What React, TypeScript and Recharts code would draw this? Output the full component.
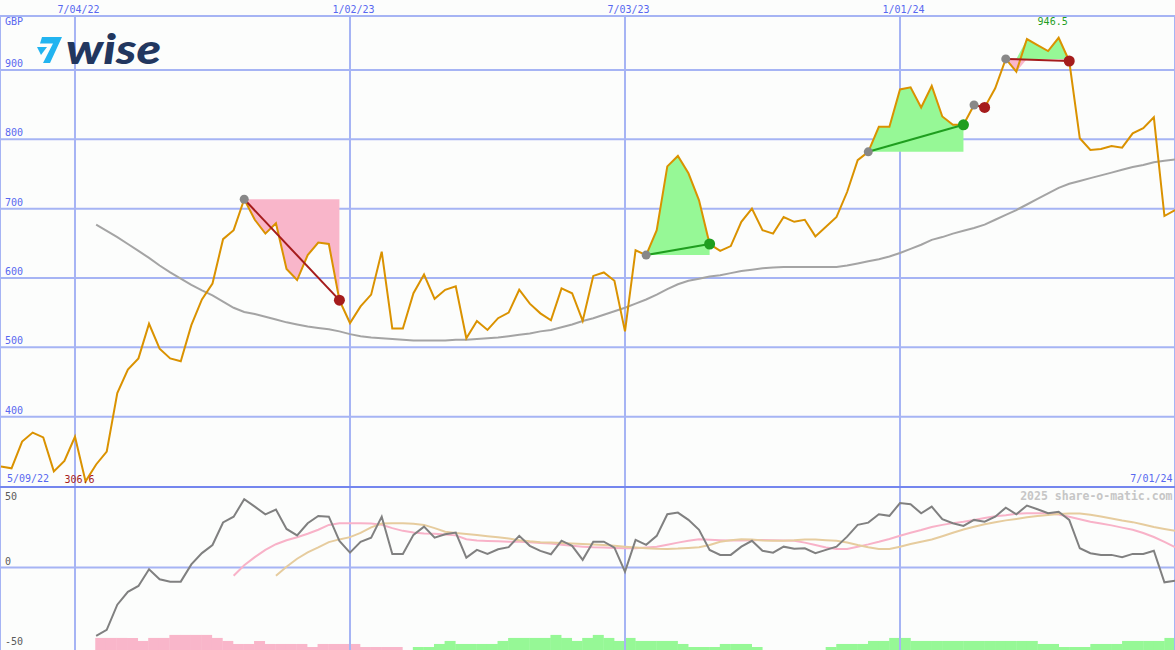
import React from 'react';
import {
    ComposedChart,
    BarChart,
    Bar,
    Cell,
    Line,
    Area,
    XAxis,
    YAxis,
    CartesianGrid,
    ReferenceLine,
    ReferenceDot,
} from 'recharts';

// weekly closes in GBP, week 1 = first visible week
const prices = [
    328, 325.5, 364, 377, 370, 321, 336, 371, 306.6, 331,
    349.5, 434, 468, 484, 534, 498, 484, 480, 532, 569,
    592, 656, 669, 713.5, 684, 664, 679, 613, 597, 633,
    651, 649, 568, 535, 559, 576, 638, 527, 527, 578,
    605, 570, 583, 588, 513, 538, 525, 542, 550, 583,
    563, 549, 539, 585, 578, 538, 603, 608, 596, 523,
    640, 633, 669, 761, 776, 751, 712, 649, 639, 646,
    681, 700, 669, 664, 688, 681, 684, 660, 674, 688,
    724, 770, 782, 818, 818, 872, 875, 846, 877, 833,
    821, 821, 849.5, 846, 873.6, 916, 897.6, 944.7, 936, 927.4,
    946.5, 913, 801.5, 784.6, 786, 790.4, 788, 808.7, 816, 831.8,
    689.4, 698,
];

const movingAvgStart = 10;
const movingAvg = [
    677, 668, 659, 649, 639, 629, 618, 608, 599, 590,
    582, 575, 566, 557, 551, 548, 544, 540, 536, 533,
    530, 528, 526, 523, 519, 516, 514, 513, 512, 511,
    510, 510, 510, 510, 511, 511, 512, 513, 514, 516,
    518, 520, 523, 525, 529, 533, 538, 542, 547, 552,
    557, 563, 569, 576, 584, 591, 596, 599, 602, 604,
    607, 610, 612, 614, 615, 616, 616, 616, 616, 616,
    616, 618, 621, 624, 627, 631, 636, 642, 648, 655,
    659, 664, 668, 672, 677, 684, 691, 698, 706, 714,
    722, 730, 736, 740, 744, 748, 752, 756, 760, 763,
    767, 769, 771,
];

const oscStart = 10;
const oscillator = [
    -42.4, -38.6, -23, -15, -11.4, -1, -7.2, -8.7, -8.7, 2,
    9, 14, 28, 31.6, 42.4, 37.8, 33, 36, 24, 20,
    27.5, 32, 31.6, 16.6, 9.3, 16, 18.6, 31.6, 8.5, 8.5,
    20.3, 25.4, 18.6, 20.7, 21.7, 6.2, 11, 8.5, 11.4, 12.7,
    19.7, 13.5, 10.4, 8.3, 16.7, 13.5, 4.8, 16.1, 16.1, 12.4,
    -2.5, 17.2, 14.1, 19.7, 33.1, 34.1, 29.6, 23.4, 11, 7.9,
    7.9, 13, 16.6, 10.4, 9.3, 13, 11.7, 12, 8.9, 11,
    13, 19.2, 26.5, 27.9, 33.1, 32.1, 40, 39.3, 33.7, 37.8,
    30, 27.5, 25.9, 29.6, 28.5, 31.6, 37.2, 33.1, 38.5, 36.2,
    33.7, 34.6, 29.6, 12, 8.9, 7.9, 7.9, 6.4, 8.5, 8.5,
    10.5, -9.1, -8.1,
];

const signalAStart = 23;
const signalA = [
    -5, 1.5, 6.5, 11, 14.5, 17, 18.8, 21, 23.5, 26.5,
    27.5, 27.5, 27.5, 27.3, 26.6, 24.5, 22.8, 21.8, 21.2, 21,
    20.6, 20, 17.6, 16.8, 16.5, 16.3, 16.1, 16.1, 15.8, 15.3,
    15, 14.2, 13.5, 13, 12.6, 12.4, 12.2, 12, 12, 12.5,
    13, 14.2, 15.5, 16.6, 17.6, 17.3, 17, 16.8, 16.8, 17,
    17.2, 17, 16.8, 16.6, 15.5, 14, 12.5, 11.6, 11.6, 13,
    14.4, 16, 17.8, 19.8, 21.6, 23.3, 25.2, 26.5, 27.6, 28.5,
    29.6, 30.8, 31.8, 32.5, 33.4, 33.7, 33.7, 33.7, 33, 31.6,
    30, 28.4, 27.3, 26.2, 24.8, 23.5, 21.5, 19, 16, 12.7,
];

const signalBStart = 27;
const signalB = [
    -5, 0.5, 5.5, 9.5, 12.5, 15.8, 17.5, 18.9, 21.5, 25,
    27.3, 27.5, 27.5, 27.2, 26.5, 24.5, 22.3, 21.5, 20.9, 20.2,
    19.5, 18.8, 18, 17, 16.3, 15.8, 15.5, 15.2, 15, 14.7,
    14.3, 14, 13.5, 12.9, 12.4, 12, 11.7, 11.6, 11.8, 12.2,
    12.7, 14, 16, 17, 17.6, 17.4, 16.8, 16.7, 16.7, 16.9,
    17.5, 17.4, 17, 16.7, 15.6, 14, 12.6, 11.6, 11.6, 13,
    14.6, 16, 17.4, 19.5, 21.6, 23.6, 25.4, 26.9, 28.2, 29.3,
    30.2, 31.2, 32, 32.7, 33.2, 33.6, 33.6, 32.8, 31.7, 30.5,
    29.2, 28.2, 26.8, 25.2, 24, 22.8,
];

// signed weekly histogram (negative = pink, positive = green)
const histogram = [
    0, 0, 0, 0, 0, 0, 0, 0, 0, -4,
    -4, -4, -4, -3, -4, -4, -5, -5, -5, -5,
    -4, -3, -2, -2, -3, -2, -2, -2, -2, -1,
    -2, -2, -2, -2, -1, -1, -1, -1, 0, 1,
    1, 2, 3, 2, 2, 2, 2, 3, 4, 4,
    4, 4, 5, 4, 3, 4, 5, 4, 3, 4,
    3, 3, 3, 3, 2, 1, 1, 1, 2, 2,
    2, 1, 0, 0, 0, 0, 0, 0, 1, 2,
    2, 2, 3, 3, 4, 4, 3, 3, 3, 3,
    3, 3, 3, 3, 3, 3, 3, 3, 2, 2,
    1, 1, 1, 2, 2, 2, 3, 3, 3, 3,
    4,
];

const dateTicks = [8, 34, 60, 86];
const dateLabels = ['7/04/22', '1/02/23', '7/03/23', '1/01/24'];
const rangeLabels = ['5/09/22', '7/01/24'];
const priceTicks = [400, 500, 600, 700, 800, 900];
const oscTicks = [50, 0, -50];

const tradeEntries = [24, 62, 83, 93, 96];
const tradeExits = [33, 68, 92, 94, 102];

const W = 1175;
const MAIN_H = 487;
const LOW_H = 163;
const X_DOMAIN: [number, number] = [0.91, 112];

const BG = '#fcfdfc';
const GRID = '#a6b4f4';
const AXIS_TEXT = '#5868f0';
const FONT = '"DejaVu Sans Mono", monospace';
const PRICE = '#da9200';
const PINK = '#f9b6ca';
const GREEN = '#96f896';
const LOSS = '#a51c1c';
const WIN = '#1f9e1f';

function valueAt(arr: number[], start: number, week: number) {
    const i = week - start;
    return i >= 0 && i < arr.length ? arr[i] : null;
}

const rows = prices.map((p, idx) => {
    const week = idx + 1;
    const row: Record<string, any> = {
        week,
        price: p,
        ma: valueAt(movingAvg, movingAvgStart, week),
        osc: valueAt(oscillator, oscStart, week),
        sigA: valueAt(signalA, signalAStart, week),
        sigB: valueAt(signalB, signalBStart, week),
    };
    tradeEntries.forEach((entry, k) => {
        const level = prices[entry - 1];
        const inTrade = week >= entry && week <= tradeExits[k];
        row[`gain${k}`] = inTrade ? [level, Math.max(p, level)] : null;
        row[`loss${k}`] = inTrade ? [Math.min(p, level), level] : null;
    });
    return row;
});

const histRows = histogram.map((h, idx) => ({ week: idx + 1, size: Math.abs(h), sign: h }));

const maxPrice = Math.max(...prices);
const minPrice = Math.min(...prices);
const maxWeek = prices.indexOf(maxPrice) + 1;
const minWeek = prices.indexOf(minPrice) + 1;

function DateTick(props: any) {
    const label = dateLabels[dateTicks.indexOf(props.payload.value)];
    return (
        <text x={props.x + 3.5} y={13} textAnchor="middle" fill={AXIS_TEXT} fontSize={10} fontFamily={FONT}>
            {label}
        </text>
    );
}

function NoTick() {
    return <g />;
}

function PriceTick(props: any) {
    return (
        <text x={5} y={props.y - 3} fill={AXIS_TEXT} fontSize={10} fontFamily={FONT}>
            {props.payload.value}
        </text>
    );
}

function OscTick(props: any) {
    const y = props.y - 3 < 11 ? props.y + 13 : props.y - 3;
    return (
        <text x={5} y={y} fill="#5a5a5a" fontSize={10} fontFamily={FONT}>
            {props.payload.value}
        </text>
    );
}

function extremeLabel(text: string, color: string, dy: number) {
    return (props: any) => {
        const vb = props.viewBox;
        const cx = vb.x + vb.width / 2;
        const cy = vb.y + vb.height / 2;
        return (
            <text x={cx - 6} y={cy + dy} textAnchor="middle" fill={color} fontSize={10} fontFamily={FONT}>
                {text}
            </text>
        );
    };
}

function MainChart() {
    return (
        <ComposedChart width={W} height={MAIN_H} data={rows} margin={{ top: 0, right: 0, bottom: 0, left: 0 }}>
            <CartesianGrid stroke={GRID} strokeWidth={2} />
            <XAxis
                dataKey="week"
                type="number"
                orientation="top"
                height={16}
                domain={X_DOMAIN}
                allowDataOverflow
                ticks={dateTicks}
                interval={0}
                axisLine={false}
                tickLine={false}
                tick={DateTick}
            />
            <YAxis
                type="number"
                mirror
                domain={[298.5, 977.9]}
                allowDataOverflow
                ticks={priceTicks}
                interval={0}
                axisLine={false}
                tickLine={false}
                tick={PriceTick}
            />
            {tradeEntries.map((_, k) => (
                <Area
                    key={`g${k}`}
                    dataKey={`gain${k}`}
                    type="linear"
                    stroke="none"
                    fill={GREEN}
                    fillOpacity={1}
                    dot={false}
                    activeDot={false}
                    isAnimationActive={false}
                />
            ))}
            {tradeEntries.map((_, k) => (
                <Area
                    key={`l${k}`}
                    dataKey={`loss${k}`}
                    type="linear"
                    stroke="none"
                    fill={PINK}
                    fillOpacity={1}
                    dot={false}
                    activeDot={false}
                    isAnimationActive={false}
                />
            ))}
            <Line dataKey="ma" type="linear" stroke="#a4a4a4" strokeWidth={2} dot={false} isAnimationActive={false} />
            <Line dataKey="price" type="linear" stroke={PRICE} strokeWidth={2} dot={false} isAnimationActive={false} />
            {tradeEntries.map((entry, k) => {
                const exit = tradeExits[k];
                const win = prices[exit - 1] >= prices[entry - 1];
                return (
                    <ReferenceLine
                        key={`t${k}`}
                        segment={[
                            { x: entry, y: prices[entry - 1] },
                            { x: exit, y: prices[exit - 1] },
                        ]}
                        stroke={win ? WIN : LOSS}
                        strokeWidth={2}
                    />
                );
            })}
            {tradeEntries.map((entry, k) => (
                <ReferenceDot key={`e${k}`} x={entry} y={prices[entry - 1]} r={4.5} fill="#888888" stroke="none" />
            ))}
            {tradeExits.map((exit, k) => {
                const win = prices[exit - 1] >= prices[tradeEntries[k] - 1];
                return (
                    <ReferenceDot key={`x${k}`} x={exit} y={prices[exit - 1]} r={5.5} fill={win ? WIN : LOSS} stroke="none" />
                );
            })}
            <ReferenceDot
                x={maxWeek}
                y={maxPrice}
                r={1}
                fill="none"
                stroke="none"
                label={extremeLabel(maxPrice.toFixed(1), WIN, -13)}
            />
            <ReferenceDot
                x={minWeek}
                y={minPrice}
                r={1}
                fill="none"
                stroke="none"
                label={extremeLabel(minPrice.toFixed(1), LOSS, 1.5)}
            />
        </ComposedChart>
    );
}

function HistogramChart() {
    return (
        <BarChart
            width={W}
            height={LOW_H}
            data={histRows}
            margin={{ top: 0, right: 0, bottom: 0, left: 0 }}
            barCategoryGap={0}
            barGap={0}
        >
            <XAxis dataKey="week" type="category" hide />
            <YAxis type="number" domain={[0, 54]} hide />
            <Bar dataKey="size" isAnimationActive={false}>
                {histRows.map((r) => (
                    <Cell key={r.week} fill={r.sign < 0 ? PINK : GREEN} />
                ))}
            </Bar>
        </BarChart>
    );
}

function OscillatorChart() {
    return (
        <ComposedChart width={W} height={LOW_H} data={rows} margin={{ top: 0, right: 0, bottom: 0, left: 0 }}>
            <CartesianGrid stroke={GRID} strokeWidth={2} horizontal={false} />
            <XAxis
                dataKey="week"
                type="number"
                height={0}
                domain={X_DOMAIN}
                allowDataOverflow
                ticks={dateTicks}
                interval={0}
                axisLine={false}
                tickLine={false}
                tick={NoTick}
            />
            <YAxis
                type="number"
                mirror
                domain={[-51.1, 50]}
                allowDataOverflow
                ticks={oscTicks}
                interval={0}
                axisLine={false}
                tickLine={false}
                tick={OscTick}
            />
            <ReferenceLine y={0} stroke={GRID} strokeWidth={2} />
            <Line dataKey="sigA" type="linear" stroke="#f8b2c8" strokeWidth={2} dot={false} isAnimationActive={false} />
            <Line dataKey="sigB" type="linear" stroke="#e6cc9e" strokeWidth={2} dot={false} isAnimationActive={false} />
            <Line dataKey="osc" type="linear" stroke="#808080" strokeWidth={2} dot={false} isAnimationActive={false} />
        </ComposedChart>
    );
}

export default function App() {
    return (
        <div style={{ position: 'absolute', left: 0, top: 0, width: W, height: 650, background: BG, overflow: 'hidden' }}>
            <div style={{ position: 'absolute', left: 0, top: 0 }}>
                <MainChart />
            </div>
            <div style={{ position: 'absolute', left: 0, top: MAIN_H }}>
                <HistogramChart />
            </div>
            <div style={{ position: 'absolute', left: 0, top: MAIN_H }}>
                <OscillatorChart />
            </div>
            <div style={{ position: 'absolute', left: 0, top: MAIN_H - 1, width: W, height: 2, background: '#7486ee' }} />
            <svg
                width={W}
                height={650}
                style={{ position: 'absolute', left: 0, top: 0, pointerEvents: 'none' }}
            >
                <text x={5} y={24.5} fill={AXIS_TEXT} fontSize={10} fontFamily={FONT}>GBP</text>
                <text x={7} y={481.5} fill={AXIS_TEXT} fontSize={10} fontFamily={FONT}>{rangeLabels[0]}</text>
                <text x={1172.5} y={481.5} textAnchor="end" fill={AXIS_TEXT} fontSize={10} fontFamily={FONT}>
                    {rangeLabels[1]}
                </text>
                <text
                    x={1172.5}
                    y={500}
                    textAnchor="end"
                    fill="#c6c6c6"
                    fontSize={11.5}
                    fontWeight="bold"
                    fontFamily={FONT}
                >
                    2025 share-o-matic.com
                </text>
                <g fill="#22b4f0">
                    <polygon points="42,37 62,37 50,63 43,63 53,43.5 40,43.5" />
                    <polygon points="37,47 47,47 41,55" />
                </g>
                <text
                    x={66}
                    y={64}
                    fill="#22375f"
                    fontSize={42}
                    fontWeight={900}
                    fontStyle="italic"
                    fontFamily="Lato, 'Noto Sans', sans-serif"
                    textLength={95}
                    lengthAdjust="spacingAndGlyphs"
                >
                    wise
                </text>
            </svg>
        </div>
    );
}
